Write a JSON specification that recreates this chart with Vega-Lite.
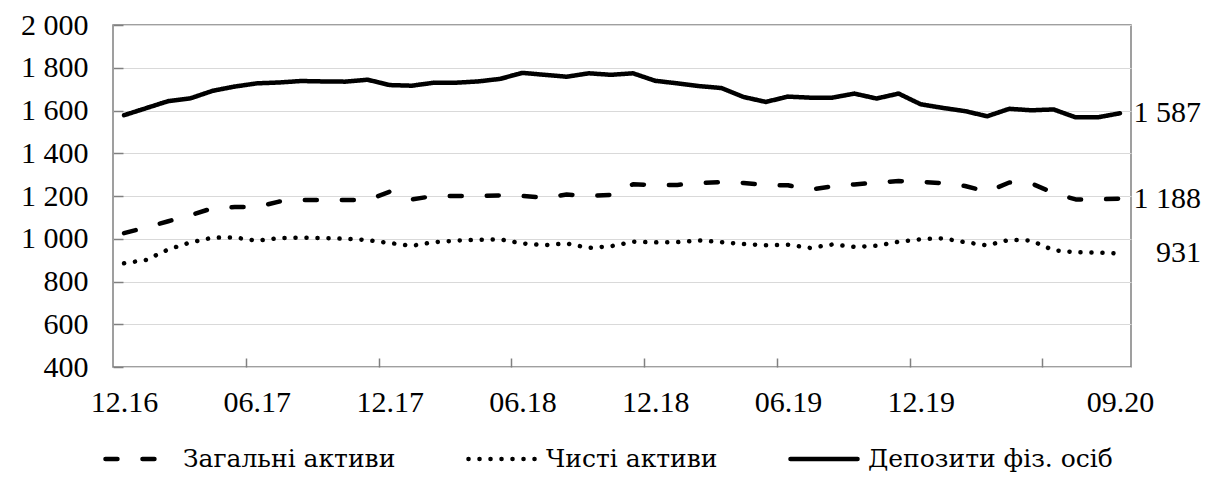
{
  "$schema": "https://vega.github.io/schema/vega-lite/v6.json",
  "width": 1018,
  "height": 342,
  "autosize": {"type": "none"},
  "padding": {"left": 113, "top": 25, "right": 80, "bottom": 111},
  "background": "white",
  "config": {
    "font": "Liberation Serif",
    "view": {"stroke": "#808080", "strokeWidth": 1.5},
    "locale": {"number": {"decimal": ",", "thousands": " ", "grouping": [3], "currency": ["", ""]}}
  },
  "data": {
    "values": [
      {"m": "12.16", "total": 1026, "net": 885, "dep": 1578},
      {"m": "01.17", "total": 1053, "net": 901, "dep": 1611},
      {"m": "02.17", "total": 1082, "net": 950, "dep": 1644},
      {"m": "03.17", "total": 1110, "net": 983, "dep": 1657},
      {"m": "04.17", "total": 1143, "net": 1005, "dep": 1692},
      {"m": "05.17", "total": 1148, "net": 1006, "dep": 1712},
      {"m": "06.17", "total": 1148, "net": 991, "dep": 1727},
      {"m": "07.17", "total": 1174, "net": 1003, "dep": 1731},
      {"m": "08.17", "total": 1181, "net": 1005, "dep": 1738},
      {"m": "09.17", "total": 1181, "net": 1003, "dep": 1736},
      {"m": "10.17", "total": 1181, "net": 1000, "dep": 1735},
      {"m": "11.17", "total": 1181, "net": 994, "dep": 1744},
      {"m": "12.17", "total": 1220, "net": 980, "dep": 1719},
      {"m": "01.18", "total": 1184, "net": 967, "dep": 1716},
      {"m": "02.18", "total": 1200, "net": 984, "dep": 1730},
      {"m": "03.18", "total": 1200, "net": 991, "dep": 1730},
      {"m": "04.18", "total": 1200, "net": 995, "dep": 1736},
      {"m": "05.18", "total": 1203, "net": 997, "dep": 1748},
      {"m": "06.18", "total": 1200, "net": 978, "dep": 1776},
      {"m": "07.18", "total": 1192, "net": 970, "dep": 1767},
      {"m": "08.18", "total": 1207, "net": 978, "dep": 1758},
      {"m": "09.18", "total": 1200, "net": 957, "dep": 1774},
      {"m": "10.18", "total": 1205, "net": 965, "dep": 1767},
      {"m": "11.18", "total": 1255, "net": 986, "dep": 1774},
      {"m": "12.18", "total": 1251, "net": 983, "dep": 1739},
      {"m": "01.19", "total": 1252, "net": 984, "dep": 1727},
      {"m": "02.19", "total": 1260, "net": 992, "dep": 1714},
      {"m": "03.19", "total": 1265, "net": 984, "dep": 1705},
      {"m": "04.19", "total": 1261, "net": 975, "dep": 1663},
      {"m": "05.19", "total": 1251, "net": 970, "dep": 1640},
      {"m": "06.19", "total": 1250, "net": 972, "dep": 1665},
      {"m": "07.19", "total": 1230, "net": 957, "dep": 1660},
      {"m": "08.19", "total": 1245, "net": 973, "dep": 1660},
      {"m": "09.19", "total": 1254, "net": 962, "dep": 1679},
      {"m": "10.19", "total": 1263, "net": 967, "dep": 1656},
      {"m": "11.19", "total": 1270, "net": 986, "dep": 1679},
      {"m": "12.19", "total": 1266, "net": 998, "dep": 1629},
      {"m": "01.20", "total": 1260, "net": 1002, "dep": 1612},
      {"m": "02.20", "total": 1247, "net": 984, "dep": 1597},
      {"m": "03.20", "total": 1220, "net": 969, "dep": 1573},
      {"m": "04.20", "total": 1263, "net": 995, "dep": 1608},
      {"m": "05.20", "total": 1259, "net": 991, "dep": 1601},
      {"m": "06.20", "total": 1214, "net": 946, "dep": 1605},
      {"m": "07.20", "total": 1184, "net": 937, "dep": 1568},
      {"m": "08.20", "total": 1184, "net": 935, "dep": 1568},
      {"m": "09.20", "total": 1188, "net": 931, "dep": 1587}
    ]
  },
  "transform": [
    {"fold": ["total", "net", "dep"], "as": ["series", "value"]}
  ],
  "encoding": {
    "x": {
      "field": "m",
      "type": "ordinal",
      "sort": null,
      "scale": {"type": "point", "padding": 0.5},
      "axis": {
        "title": null,
        "values": ["12.16", "06.17", "12.17", "06.18", "12.18", "06.19", "12.19", "06.20", "09.20"],
        "labelExpr": "datum.value == '06.20' ? '' : datum.label",
        "labelAngle": 0,
        "labelFont": "Liberation Serif",
        "labelFontSize": 30,
        "labelColor": "black",
        "labelPadding": 29,
        "domain": false,
        "grid": false,
        "tickSize": -9,
        "tickWidth": 1.5,
        "tickColor": "#808080",
        "tickOffset": -11.07,
        "labelOffset": 11.07,
        "tickOpacity": {"condition": {"test": "datum.value == '12.16' || datum.value == '09.20'", "value": 0}, "value": 1}
      }
    },
    "y": {
      "field": "value",
      "type": "quantitative",
      "scale": {"domain": [400, 2000], "nice": false, "zero": false},
      "axis": {
        "title": null,
        "values": [400, 600, 800, 1000, 1200, 1400, 1600, 1800, 2000],
        "format": ",d",
        "labelFont": "Liberation Serif",
        "labelFontSize": 30,
        "labelColor": "black",
        "labelPadding": 35,
        "domain": false,
        "gridColor": "#d9d9d9",
        "gridWidth": 1.2,
        "tickSize": -10,
        "tickWidth": 1.5,
        "tickColor": "#808080"
      }
    }
  },
  "layer": [
    {
      "mark": {"type": "line", "color": "black", "strokeWidth": 4.5, "strokeCap": "round", "strokeJoin": "round"},
      "encoding": {
        "strokeDash": {
          "field": "series",
          "type": "nominal",
          "scale": {"domain": ["total", "net", "dep"], "range": [[12, 25], [0.1, 10.9], [1, 0]]},
          "legend": {
            "title": null,
            "orient": "none",
            "direction": "horizontal",
            "legendX": -10,
            "legendY": 398,
            "labelExpr": "datum.value == 'total' ? 'Загальні активи' : datum.value == 'net' ? 'Чисті активи' : 'Депозити фіз. осіб'",
            "labelFont": "DejaVu Serif",
            "labelFontSize": 25,
            "labelColor": "black",
            "labelOffset": 8,
            "labelLimit": 500,
            "symbolType": "stroke",
            "symbolSize": 4500,
            "symbolStrokeWidth": 4.5,
            "symbolStrokeColor": "black",
            "columnPadding": 63,
            "encode": {"symbols": {"update": {"strokeCap": {"value": "round"}}}}
          }
        }
      }
    },
    {
      "transform": [{"filter": "datum.m == '09.20'"}],
      "mark": {"type": "text", "align": "right", "baseline": "middle", "dx": 81, "fontSize": 30, "color": "black", "font": "Liberation Serif"},
      "encoding": {
        "text": {"field": "value", "type": "quantitative", "format": ",d"}
      }
    }
  ]
}
